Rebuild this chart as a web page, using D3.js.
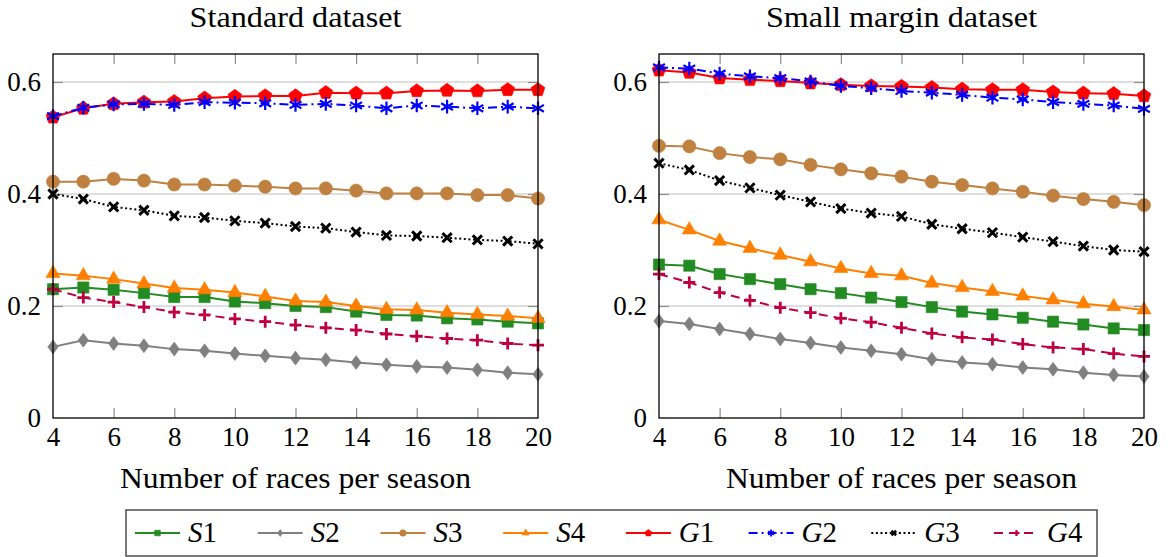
<!DOCTYPE html>
<html>
<head>
<meta charset="utf-8">
<script src="https://cdn.jsdelivr.net/npm/d3@7"></script>
<style>
  html, body { margin: 0; padding: 0; background: #fff; }
  svg { display: block; }
  text { font-family: "Liberation Serif", "Times New Roman", serif; fill: #000; }
</style>
</head>
<body>
<svg id="chart" width="1168" height="557"></svg>
<script>
// ---------------- data ----------------
const races = [4, 5, 6, 7, 8, 9, 10, 11, 12, 13, 14, 15, 16, 17, 18, 19, 20];
const xTickValues = [4, 6, 8, 10, 12, 14, 16, 18, 20];
const yTickValues = [0, 0.2, 0.4, 0.6];
const yTickLabels = ["0", "0.2", "0.4", "0.6"];
const panelTitles = ["Standard dataset", "Small margin dataset"];
const xAxisLabel = "Number of races per season";
const seriesNames = ["S1", "S2", "S3", "S4", "G1", "G2", "G3", "G4"];

// Standard dataset
const stdS1 = [0.230, 0.233, 0.229, 0.223, 0.216, 0.216, 0.208, 0.205, 0.200, 0.198, 0.190, 0.184, 0.183, 0.178, 0.176, 0.172, 0.169];
const stdS2 = [0.127, 0.139, 0.133, 0.129, 0.123, 0.120, 0.115, 0.111, 0.107, 0.104, 0.099, 0.095, 0.092, 0.090, 0.086, 0.081, 0.078];
const stdS3 = [0.422, 0.422, 0.427, 0.424, 0.417, 0.417, 0.415, 0.413, 0.410, 0.410, 0.406, 0.401, 0.401, 0.401, 0.398, 0.398, 0.392];
const stdS4 = [0.258, 0.254, 0.248, 0.240, 0.232, 0.229, 0.224, 0.217, 0.209, 0.207, 0.200, 0.194, 0.193, 0.188, 0.185, 0.182, 0.178];
const stdG1 = [0.537, 0.553, 0.561, 0.564, 0.565, 0.571, 0.574, 0.575, 0.575, 0.581, 0.580, 0.580, 0.584, 0.585, 0.584, 0.586, 0.586];
const stdG2 = [0.539, 0.554, 0.560, 0.561, 0.559, 0.564, 0.563, 0.562, 0.559, 0.561, 0.558, 0.553, 0.558, 0.556, 0.553, 0.556, 0.553];
const stdG3 = [0.400, 0.391, 0.377, 0.371, 0.361, 0.358, 0.352, 0.348, 0.342, 0.339, 0.332, 0.326, 0.325, 0.322, 0.318, 0.316, 0.311];
const stdG4 = [0.230, 0.215, 0.207, 0.198, 0.189, 0.184, 0.177, 0.172, 0.166, 0.161, 0.157, 0.150, 0.146, 0.142, 0.139, 0.133, 0.130];

// Small margin dataset
const smS1 = [0.274, 0.272, 0.257, 0.248, 0.239, 0.230, 0.223, 0.215, 0.207, 0.198, 0.190, 0.185, 0.179, 0.172, 0.167, 0.160, 0.157];
const smS2 = [0.173, 0.168, 0.159, 0.150, 0.141, 0.134, 0.126, 0.120, 0.114, 0.105, 0.099, 0.096, 0.090, 0.087, 0.081, 0.077, 0.074];
const smS3 = [0.486, 0.485, 0.473, 0.466, 0.462, 0.452, 0.444, 0.437, 0.431, 0.422, 0.416, 0.410, 0.404, 0.397, 0.391, 0.386, 0.380];
const smS4 = [0.354, 0.336, 0.316, 0.303, 0.291, 0.279, 0.267, 0.258, 0.254, 0.241, 0.233, 0.226, 0.218, 0.211, 0.204, 0.199, 0.193];
const smG1 = [0.621, 0.617, 0.607, 0.604, 0.602, 0.598, 0.595, 0.593, 0.592, 0.590, 0.587, 0.586, 0.586, 0.582, 0.580, 0.579, 0.575];
const smG2 = [0.626, 0.624, 0.615, 0.610, 0.607, 0.601, 0.593, 0.589, 0.584, 0.581, 0.577, 0.572, 0.569, 0.564, 0.561, 0.558, 0.552];
const smG3 = [0.455, 0.443, 0.424, 0.411, 0.398, 0.386, 0.374, 0.366, 0.360, 0.346, 0.338, 0.331, 0.323, 0.315, 0.307, 0.300, 0.297];
const smG4 = [0.257, 0.242, 0.224, 0.210, 0.197, 0.188, 0.178, 0.171, 0.161, 0.151, 0.144, 0.140, 0.132, 0.126, 0.123, 0.115, 0.110];

// ---------------- styles ----------------
const styles = {
  S1: { color: "#228b22", dash: null,       width: 2,   mark: "square" },
  S2: { color: "#808080", dash: null,       width: 2,   mark: "diamond" },
  S3: { color: "#bf8040", dash: null,       width: 2,   mark: "circle" },
  S4: { color: "#ff8000", dash: null,       width: 2,   mark: "triangle" },
  G1: { color: "#ff0000", dash: null,       width: 2,   mark: "pentagon" },
  G2: { color: "#0000ff", dash: "9,4,2,4",  width: 2,   mark: "asterisk" },
  G3: { color: "#000000", dash: "2,2.6",    width: 2,   mark: "x" },
  G4: { color: "#bf0040", dash: "9,6",      width: 2,   mark: "plus" }
};

function markPath(type, s) {
  const p = d3.path();
  if (type === "square") {
    const h = 5.6 * s; p.rect(-h, -h, 2 * h, 2 * h);
  } else if (type === "diamond") {
    const w = 5.2 * s, h = 7 * s;
    p.moveTo(0, -h); p.lineTo(w, 0); p.lineTo(0, h); p.lineTo(-w, 0); p.closePath();
  } else if (type === "circle") {
    const r = 6.6 * s; p.moveTo(r, 0); p.arc(0, 0, r, 0, 2 * Math.PI);
  } else if (type === "triangle") {
    const r = 8.2 * s;
    for (let k = 0; k < 3; k++) {
      const a = -Math.PI / 2 + k * 2 * Math.PI / 3;
      const x = r * Math.cos(a), y = r * Math.sin(a);
      if (k === 0) p.moveTo(x, y); else p.lineTo(x, y);
    }
    p.closePath();
  } else if (type === "pentagon") {
    const r = 7.2 * s;
    for (let k = 0; k < 5; k++) {
      const a = -Math.PI / 2 + k * 2 * Math.PI / 5;
      const x = r * Math.cos(a), y = r * Math.sin(a);
      if (k === 0) p.moveTo(x, y); else p.lineTo(x, y);
    }
    p.closePath();
  } else if (type === "asterisk") {
    const r = 6.8 * s;
    for (let k = 0; k < 3; k++) {
      const a = -Math.PI / 2 + k * Math.PI / 3;
      p.moveTo(r * Math.cos(a), r * Math.sin(a));
      p.lineTo(-r * Math.cos(a), -r * Math.sin(a));
    }
  } else if (type === "x") {
    const r = 4.6 * s;
    p.moveTo(-r, -r); p.lineTo(r, r); p.moveTo(-r, r); p.lineTo(r, -r);
  } else if (type === "plus") {
    const r = 6 * s;
    p.moveTo(-r, 0); p.lineTo(r, 0); p.moveTo(0, -r); p.lineTo(0, r);
  }
  return p.toString();
}
const strokeMarks = { asterisk: 2.2, x: 3, plus: 2.8 };

function drawMark(g, type, color, s) {
  const path = g.append("path").attr("d", markPath(type, s));
  if (strokeMarks[type]) {
    path.attr("fill", "none").attr("stroke", color)
      .attr("stroke-width", strokeMarks[type] * (s < 1 ? 0.8 : 1)).attr("stroke-linecap", "butt");
  } else {
    path.attr("fill", color).attr("stroke", color).attr("stroke-width", 0.6);
  }
}

// widen Liberation Serif toward Computer Modern proportions
function stretch(sel, factor) {
  sel.each(function () {
    const len = this.getComputedTextLength();
    d3.select(this).attr("textLength", len * factor).attr("lengthAdjust", "spacingAndGlyphs");
  });
}

// ---------------- layout ----------------
const svg = d3.select("#chart");
const plotTop = 54, plotBottom = 418;
const panels = [
  { title: panelTitles[0], left: 53, right: 538,
    series: { S1: stdS1, S2: stdS2, S3: stdS3, S4: stdS4, G1: stdG1, G2: stdG2, G3: stdG3, G4: stdG4 } },
  { title: panelTitles[1], left: 659, right: 1144,
    series: { S1: smS1, S2: smS2, S3: smS3, S4: smS4, G1: smG1, G2: smG2, G3: smG3, G4: smG4 } }
];

const y = d3.scaleLinear().domain([0, 0.65]).range([plotBottom, plotTop]);

panels.forEach((pn, pi) => {
  const x = d3.scaleLinear().domain([4, 20]).range([pn.left, pn.right]);
  const g = svg.append("g");
  const cx = (pn.left + pn.right) / 2;

  // grid lines
  g.append("g").selectAll("line").data(yTickValues.filter(v => v > 0)).join("line")
    .attr("x1", pn.left).attr("x2", pn.right)
    .attr("y1", d => y(d)).attr("y2", d => y(d))
    .attr("stroke", "#c0c0c0").attr("stroke-width", 1.2);

  const tickLen = 10;
  const xb = d3.axisBottom(x).tickValues(xTickValues).tickSize(-tickLen).tickPadding(16).tickFormat(d3.format("d"));
  const xt = d3.axisTop(x).tickValues(xTickValues).tickSize(-tickLen).tickFormat("");
  const yl = d3.axisLeft(y).tickValues(yTickValues).tickSize(-tickLen).tickPadding(12)
    .tickFormat((d, i) => yTickLabels[i]);
  const yr = d3.axisRight(y).tickValues(yTickValues).tickSize(-tickLen).tickFormat("");

  const styleAxis = (sel) => {
    sel.select(".domain").remove();
    sel.selectAll(".tick line").attr("stroke", "#8c8c8c").attr("stroke-width", 1.2);
    sel.selectAll(".tick text").attr("font-family", "Liberation Serif").attr("font-size", 27).attr("fill", "#000");
  };
  const gxb = g.append("g").attr("transform", `translate(0,${plotBottom})`).call(xb).call(styleAxis);
  gxb.selectAll(".tick").filter(d => d === 4 || d === 20).select("line").remove();
  gxb.selectAll(".tick text").attr("dy", null).attr("y", 28);
  g.append("g").attr("transform", `translate(0,${plotTop})`).call(xt).call(styleAxis)
    .selectAll(".tick").filter(d => d === 4 || d === 20).select("line").remove();
  g.append("g").attr("transform", `translate(${pn.left},0)`).call(yl).call(styleAxis)
    .selectAll(".tick").filter(d => d === 0).select("line").remove();
  g.append("g").attr("transform", `translate(${pn.right},0)`).call(yr).call(styleAxis)
    .selectAll(".tick").filter(d => d === 0).select("line").remove();

  // series
  seriesNames.forEach(name => {
    const st = styles[name];
    const vals = pn.series[name];
    const pts = races.map((r, i) => [r, vals[i]]);
    const line = d3.line().x(d => x(d[0])).y(d => y(d[1]));
    g.append("path").attr("d", line(pts)).attr("fill", "none")
      .attr("stroke", st.color).attr("stroke-width", st.width)
      .attr("stroke-dasharray", st.dash).attr("stroke-linejoin", "round");
    pts.forEach(d => {
      const mg = g.append("g").attr("transform", `translate(${x(d[0])},${y(d[1])})`);
      drawMark(mg, st.mark, st.color, 1);
    });
  });

  // frame
  g.append("rect").attr("x", pn.left).attr("y", plotTop)
    .attr("width", pn.right - pn.left).attr("height", plotBottom - plotTop)
    .attr("fill", "none").attr("stroke", "#000").attr("stroke-width", 1.3);

  // title
  g.append("text").attr("x", cx).attr("y", 27).attr("text-anchor", "middle")
    .attr("font-size", 29).text(pn.title).call(stretch, 1.11);
  // x label
  g.append("text").attr("x", cx).attr("y", 488).attr("text-anchor", "middle")
    .attr("font-size", 29).text(xAxisLabel).call(stretch, 1.09);
});

// ---------------- legend ----------------
const lg = svg.append("g");
lg.append("rect").attr("x", 126).attr("y", 510).attr("width", 971).attr("height", 46)
  .attr("fill", "#fff").attr("stroke", "#4d4d4d").attr("stroke-width", 1.5);
const legendX = d3.scalePoint().domain(seriesNames).range([135, 994]);
seriesNames.forEach(name => {
  const st = styles[name];
  const x0 = legendX(name);
  const ly = 533;
  lg.append("line").attr("x1", x0).attr("x2", x0 + 45).attr("y1", ly).attr("y2", ly)
    .attr("stroke", st.color).attr("stroke-width", st.width).attr("stroke-dasharray", st.dash);
  const mg = lg.append("g").attr("transform", `translate(${x0 + 22.5},${ly})`);
  drawMark(mg, st.mark, st.color, 0.5);
  const t = lg.append("text").attr("x", x0 + 53).attr("y", 542).attr("font-size", 29);
  t.append("tspan").attr("font-style", "italic").text(name[0]);
  t.append("tspan").text(name.slice(1));
});
</script>
</body>
</html>
